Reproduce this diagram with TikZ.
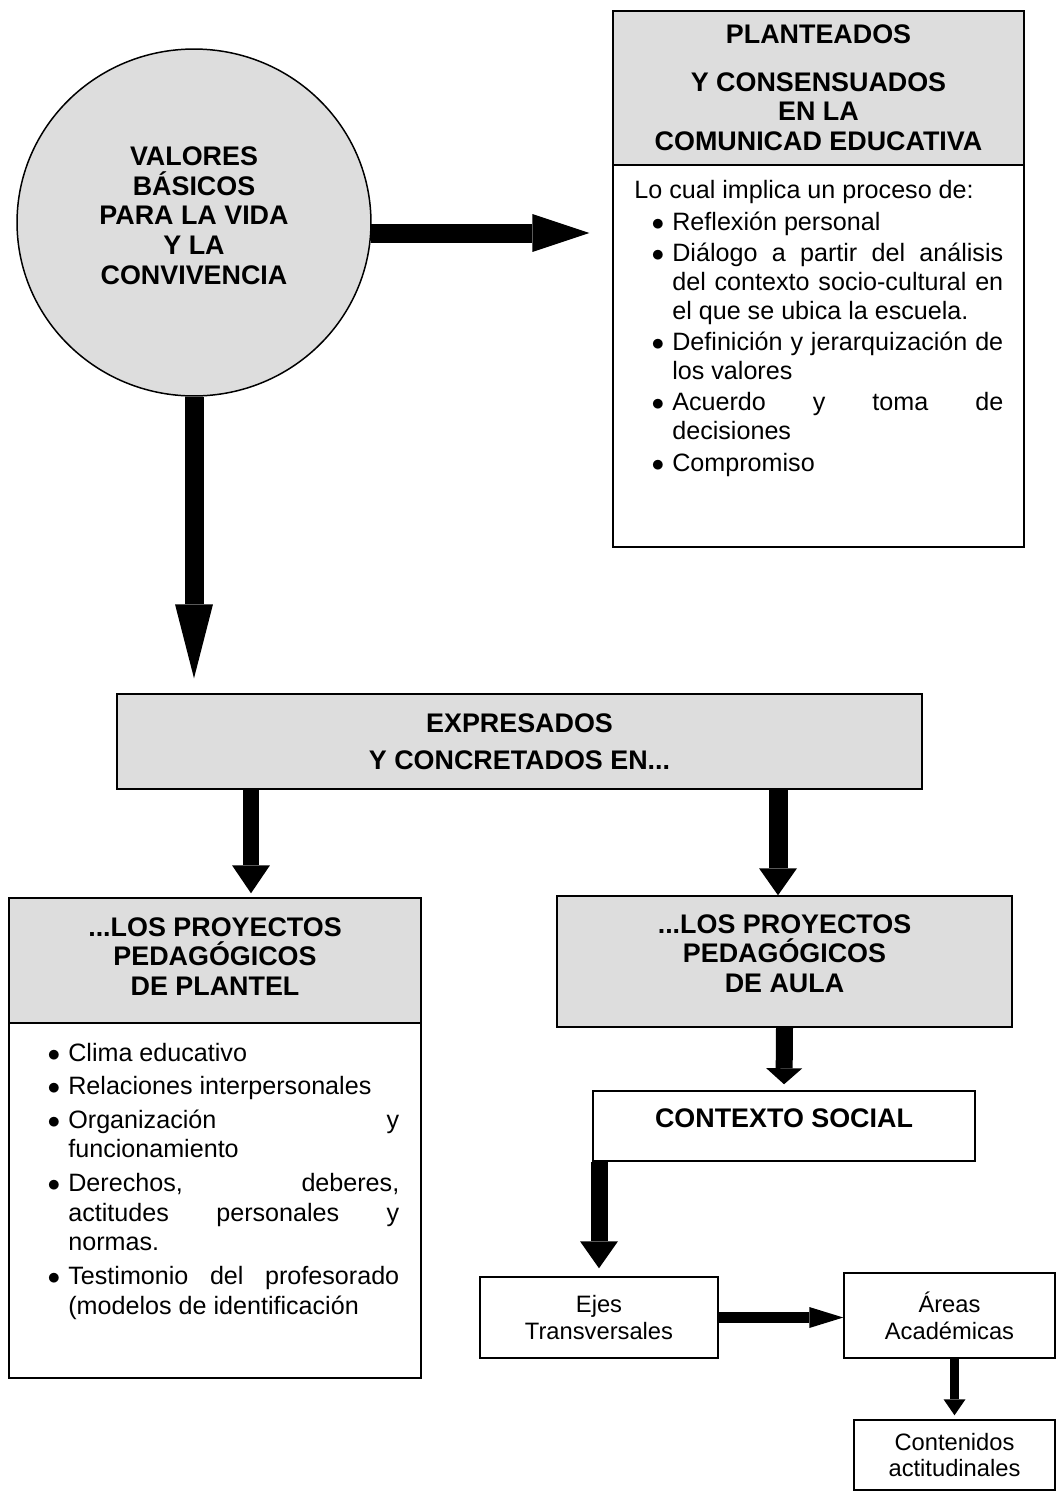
\documentclass[tikz,border=0pt]{standalone}
\usepackage{fontspec}
\setmainfont{Liberation Sans}
\usepackage{enumitem}
\usetikzlibrary{shapes.geometric, arrows.meta}

\definecolor{boxgray}{RGB}{221,221,221}
\setlength{\parindent}{0pt}
\hyphenpenalty=10000
\exhyphenpenalty=10000
\newcommand{\headfont}{\fontsize{15.3pt}{17pt}\selectfont\bfseries}
\newcommand{\bodyfont}{\fontsize{14.3pt}{16.3pt}\selectfont}
\newcommand{\plfont}{\fontsize{14.3pt}{16.9pt}\selectfont}
\newcommand{\smallfont}{\fontsize{13.5pt}{15.3pt}\selectfont}
\setlist[itemize]{label=$\bullet$, leftmargin=0.76cm, labelsep=0.16cm, nosep, itemsep=1.7pt}

\begin{document}
\begin{tikzpicture}[x=0.02cm, y=-0.02cm,
    box/.style={draw, line width=0.85pt, inner sep=0pt},
    graybox/.style={box, fill=boxgray},
    listtext/.style={anchor=north west, inner sep=0pt, text width=7.38cm, align=justify, font=\bodyfont},
    blk/.style n args={3}{line width=#1, -{Triangle[length=#2, width=#3, line width=0pt]}}]
    \useasboundingbox (0,0) rectangle (1059,1501);
    % Nodes
    \node[graybox, ellipse, minimum width=7.08cm, minimum height=6.94cm, text depth=0.28cm, align=center, font=\headfont] (circ) at (194,222.5) {VALORES\\BÁSICOS\\PARA LA VIDA\\Y LA\\CONVIVENCIA};
    \node[graybox, minimum width=8.22cm, minimum height=3.08cm, align=center, font=\headfont] (trhead) at (818.5,88) {PLANTEADOS\\[9.9pt] Y CONSENSUADOS\\EN LA\\COMUNICAD EDUCATIVA};
    \node[box, minimum width=8.22cm, minimum height=7.64cm] (trbody) at (818.5,356) {};
    \node[listtext] (trtext) at (634,180) {Lo cual implica un proceso de:
      \begin{itemize}[topsep=1.7pt]
        \item Reflexión personal
        \item Diálogo a partir del análisis\linebreak del contexto socio-cultural en\linebreak el que se ubica la escuela.
        \item Definición y jerarquización de\linebreak los valores
        \item Acuerdo y toma de\linebreak decisiones
        \item Compromiso
      \end{itemize}};
    \node[graybox, minimum width=16.1cm, minimum height=1.9cm, align=center, font=\headfont] (expr) at (519.5,741.5) {EXPRESADOS\\[4.3pt] Y CONCRETADOS EN...};
    \node[graybox, minimum width=8.24cm, minimum height=2.5cm, text depth=0.16cm, align=center, font=\headfont] (plhead) at (215,960.5) {...LOS PROYECTOS\\PEDAGÓGICOS\\DE PLANTEL};
    \node[box, minimum width=8.24cm, minimum height=7.1cm] (plbody) at (215,1200.5) {};
    \node[listtext, font=\plfont] (pltext) at (30,1031) {%
      \begin{itemize}[itemsep=2.2pt]
        \item Clima educativo
        \item Relaciones interpersonales
        \item Organización y\linebreak funcionamiento
        \item Derechos, deberes,\linebreak actitudes personales y\linebreak normas.
        \item Testimonio del profesorado\linebreak (modelos de identificación
      \end{itemize}};
    \node[graybox, minimum width=9.1cm, minimum height=2.62cm, text depth=0.32cm, align=center, font=\headfont] (aula) at (784.5,961.5) {...LOS PROYECTOS\\PEDAGÓGICOS\\DE AULA};
    \node[box, minimum width=7.64cm, text height=0.72cm, text depth=0.68cm, font=\headfont] (ctx) at (784,1126) {CONTEXTO SOCIAL};
    \node[box, minimum width=4.76cm, minimum height=1.62cm, align=center, font=\smallfont] (ejes) at (599,1317.5) {Ejes\\Transversales};
    \node[box, minimum width=4.22cm, minimum height=1.7cm, align=center, font=\smallfont] (areas) at (949.5,1315.5) {Áreas\\Académicas};
    \node[box, minimum width=4.02cm, minimum height=1.4cm, align=center, font=\smallfont] (cont) at (954.5,1455) {Contenidos\\actitudinales};
    \coordinate (a1) at (371,233);
    \coordinate (p1) at (251,789);
    \coordinate (p2) at (778,789);
    % Edges
    \draw[blk={0.38cm}{1.14cm}{0.76cm}, shorten >=0.46cm] (a1) -- (a1 -| trhead.west);
    \draw[blk={0.38cm}{1.48cm}{0.76cm}, shorten >=0.3cm] (circ.south) -- (circ.south |- expr.north);
    \draw[blk={0.32cm}{0.56cm}{0.76cm}, shorten >=0.08cm] (p1) -- (p1 |- plhead.north);
    \draw[blk={0.38cm}{0.54cm}{0.76cm}] (p2) -- (p2 |- aula.north);
    \draw[blk={0.34cm}{0.32cm}{0.72cm}, shorten >=0.12cm] (aula.south) -- (ctx.north);
    \draw[blk={0.34cm}{0.54cm}{0.76cm}, shorten >=0.16cm] (ejes.north |- ctx.south) -- (ejes.north);
    \draw[blk={0.22cm}{0.68cm}{0.42cm}] (ejes.east) -- (ejes.east -| areas.west);
    \draw[blk={0.18cm}{0.32cm}{0.44cm}, shorten >=0.08cm] (cont.north |- areas.south) -- (cont.north);
\end{tikzpicture}
\end{document}
